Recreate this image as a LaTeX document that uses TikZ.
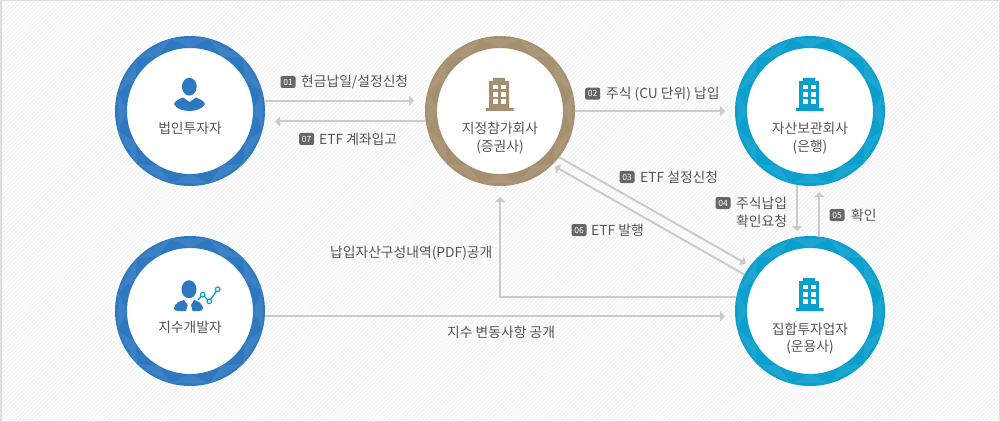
\documentclass[tikz,border=0pt]{standalone}
\usepackage{fontspec}
\setmainfont{Noto Sans CJK KR}
\usetikzlibrary{arrows.meta,patterns.meta}
\definecolor{ringblue}{HTML}{2E78BF}
\definecolor{ringbrown}{HTML}{A58F6F}
\definecolor{ringcyan}{HTML}{0A9FCD}
\definecolor{flowgray}{HTML}{CBCBCB}
\definecolor{textgray}{HTML}{555555}
\definecolor{badgegray}{HTML}{666666}
\tikzset{
    ring/.style={circle,draw=#1,fill=white,line width=12pt,minimum size=138pt,inner sep=0pt},
    flow/.style={-{Triangle[length=5pt,width=10pt]},flowgray,line width=2pt},
    txt/.style={text=textgray,font=\fontsize{13.8}{18}\selectfont,inner sep=0pt},
    steptxt/.style={txt,anchor=west},
    badge/.style={fill=badgegray,rounded corners=2pt,text=white,minimum width=15pt,minimum height=12pt,inner sep=0pt,font=\fontsize{8.5}{9}\selectfont}
}
\newcommand{\buildingicon}[3]{%
    \begin{scope}[shift={(#1,#2)}]
        \fill[#3] (-14,-3) rectangle (13.5,0) (-11,-3) rectangle (9,-30) (-7,-30) rectangle (5,-33);
        \foreach \wx in {-6.7,0.7} \foreach \wy in {-26.3,-19,-11.7}
            \fill[white] (\wx,\wy) rectangle ++(4.8,4.7);
    \end{scope}}
\begin{document}
\begin{tikzpicture}[x=1pt,y=-1pt]

    \useasboundingbox (0,0) rectangle (1000,422);
    \fill[white] (0,0) rectangle (1000,422);
    \fill[pattern={Lines[angle=45,distance=3pt,line width=.8pt]},pattern color=black!6] (0,0) rectangle (1000,422);
    \draw[black!13,line width=1.5pt] (0.75,0.75) rectangle (999.25,421.25);

    % rings
    \node[ring=ringblue] (corp) at (190,111) {};
    \node[ring=ringbrown] (part) at (500,111) {};
    \node[ring=ringcyan] (bank) at (810,111) {};
    \node[ring=ringblue] (index) at (190,311) {};
    \node[ring=ringcyan] (fund) at (810,311) {};

    % ring marks
    \foreach \cx/\cy in {190/111,500/111,810/111,190/311,810/311}
        \foreach \a in {0,30,...,330}
            \fill[white,opacity=.07,shift={(\cx,\cy)}] (\a-15:75) -- (\a:63) -- (\a+15:75) -- cycle;

    % icons
    \fill[ringblue] (189.3,86.7) ellipse (7.4 and 8.9);
    \fill[ringblue] (174,104) .. controls (175,100.5) and (180,99) .. (183,97.5) -- (189.5,102) -- (196,97.5) .. controls (199,99) and (204,100.5) .. (205,104) .. controls (203,108.5) and (196,111) .. (189.5,111) .. controls (183,111) and (176,108.5) .. (174,104) -- cycle;
    \buildingicon{500}{111}{ringbrown}
    \buildingicon{810}{111}{ringcyan}
    \buildingicon{810}{311}{ringcyan}
    \fill[ringblue] (189,289.3) ellipse (7.5 and 9);
    \fill[ringblue] (174,308) .. controls (175,303) and (180,301) .. (184,300) -- (187.7,305) -- (186,311) -- (178,311) .. controls (175.5,311) and (174,310) .. (174,308) -- cycle;
    \fill[ringblue] (203,308) .. controls (202,303) and (198,301) .. (194,300) -- (191,305) -- (192.5,311) -- (199,311) .. controls (201.5,311) and (203,310) .. (203,308) -- cycle;
    \draw[ringcyan,line width=1.3pt] (198,300) -- (202.7,294.7) -- (209.3,301.3) -- (217.7,289.3);
    \foreach \px/\py in {202.7/294.7,209.3/301.3,217.7/289.3}
        \draw[ringcyan,line width=1.2pt,fill=white] (\px,\py) circle (2.3);

    % ring names
    \node[txt] (corpname) at (190,128) {법인투자자};
    \node[txt] (partname) at (500,128) {지정참가회사};
    \node[txt] (partsub) at (500,147) {(증권사)};
    \node[txt] (bankname) at (810,128) {자산보관회사};
    \node[txt] (banksub) at (810,147) {(은행)};
    \node[txt] (indexname) at (190,327) {지수개발자};
    \node[txt] (fundname) at (810,329) {집합투자업자};
    \node[txt] (fundsub) at (810,347) {(운용사)};

    % connectors
    \draw[flow,shorten >=11pt] (corp.8.4) to (corp.8.4 -| part.west); % corp -> part
    \draw[flow,shorten >=10pt] (part.188.4) to (part.188.4 -| corp.east); % part -> corp
    \draw[flow,shorten >=10pt] (part.east) to (bank.west); % part -> bank
    \draw[flow,shorten >=5pt] (part.322.5) to (fund.143.1); % part -> fund
    \draw[flow,shorten >=3pt] (fund.151.7) to (part.314); % fund -> part
    \draw[flow,shorten >=5pt] (bank.260.8) to (bank.260.8 |- fund.north); % bank -> fund
    \draw[flow,shorten >=6pt] (fund.83.1) to (fund.83.1 |- bank.south); % fund -> bank
    \draw[flow,shorten >=10pt] (index.356.2) to (index.356.2 -| fund.west); % index -> fund
    \draw[flow,shorten >=11pt] (fund.169.2) -| (part.south); % fund -> part (PDF)

    % step badges and labels
    \node[badge] (b01) at (288,82) {01};
    \node[steptxt] (l01) at (301,82) {현금납일/설정신청};
    \node[badge] (b02) at (592.7,93.7) {02};
    \node[steptxt] (l02) at (606,93.7) {주식 (CU 단위) 납입};
    \node[badge] (b03) at (627,177) {03};
    \node[steptxt] (l03) at (640,177) {ETF 설정신청};
    \node[badge] (b04) at (723,203) {04};
    \node[steptxt,align=left] (l04) at (736,212) {주식납입\\확인요청};
    \node[badge] (b05) at (837,215) {05};
    \node[steptxt] (l05) at (851,215) {확인};
    \node[badge] (b06) at (579,230) {06};
    \node[steptxt] (l06) at (591,230) {ETF 발행};
    \node[badge] (b07) at (306.7,139) {07};
    \node[steptxt] (l07) at (319,139) {ETF 계좌입고};

    \node[steptxt] (lpdf) at (330,253) {납입자산구성내역(PDF)공개};
    \node[steptxt] (lindex) at (447,332) {지수 변동사항 공개};

\end{tikzpicture}
\end{document}
